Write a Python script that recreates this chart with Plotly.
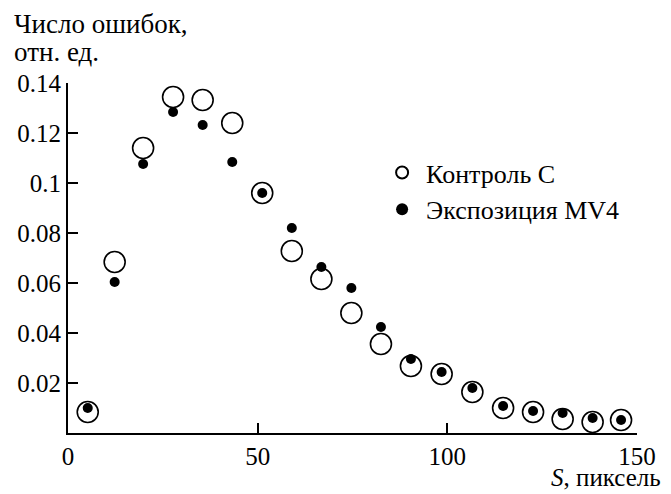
import plotly.graph_objects as go

# Data
s_values = [5.2, 12.3, 19.8, 27.7, 35.5, 43.3, 51.2, 59.0, 66.8, 74.7,
            82.5, 90.4, 98.5, 106.6, 114.7, 122.6, 130.4, 138.3, 145.8]
control_c = [0.0084, 0.0684, 0.114, 0.1344, 0.1332, 0.124, 0.096, 0.0728, 0.0616, 0.048,
             0.0356, 0.0268, 0.0236, 0.0164, 0.010, 0.0084, 0.0056, 0.0044, 0.0052]
exposure_mv4 = [0.010, 0.0604, 0.1076, 0.1284, 0.1232, 0.1084, 0.096, 0.082, 0.0664, 0.058,
                0.0424, 0.0296, 0.0244, 0.018, 0.0108, 0.0088, 0.008, 0.006, 0.0052]

x_ticks = [0, 50, 100, 150]
x_tick_labels = ["0", "50", "100", "150"]
y_ticks = [0.02, 0.04, 0.06, 0.08, 0.1, 0.12, 0.14]
y_tick_labels = ["0.02", "0.04", "0.06", "0.08", "0.1", "0.12", "0.14"]

FONT = "Times New Roman, Liberation Serif, serif"

fig = go.Figure()
fig.add_trace(go.Scatter(
    x=s_values, y=control_c, mode="markers", name="Контроль C",
    marker=dict(symbol="circle-open", size=21, color="black", line=dict(width=1.6, color="black")),
))
fig.add_trace(go.Scatter(
    x=s_values, y=exposure_mv4, mode="markers", name="Экспозиция MV4",
    marker=dict(symbol="circle", size=10, color="black"),
))

fig.update_layout(
    width=671, height=494,
    margin=dict(l=60, r=42, t=75, b=69, autoexpand=False),
    paper_bgcolor="white", plot_bgcolor="white",
    font=dict(family=FONT, size=25, color="black"),
    showlegend=True,
    legend=dict(x=0.545, y=0.811, xanchor="left", yanchor="top",
                font=dict(family=FONT, size=26, color="black"),
                bgcolor="rgba(0,0,0,0)", itemsizing="constant",
                itemwidth=38, tracegroupgap=0),
    xaxis=dict(range=[0, 150], tickvals=x_ticks, ticktext=x_tick_labels,
               ticks="inside", ticklen=10, tickwidth=2, tickcolor="black",
               showline=True, linecolor="black", linewidth=2,
               showgrid=False, zeroline=False, automargin=False,
               tickfont=dict(family=FONT, size=25)),
    yaxis=dict(range=[0, 0.14], tickvals=y_ticks, ticktext=y_tick_labels,
               ticks="inside", ticklen=10, tickwidth=2, tickcolor="black",
               showline=True, linecolor="black", linewidth=2,
               showgrid=False, zeroline=False, automargin=False,
               tickfont=dict(family=FONT, size=25)),
    annotations=[
        dict(text="Число ошибок,", xref="paper", yref="paper",
             x=-0.0976, y=1.168, xanchor="left", yanchor="middle", showarrow=False,
             font=dict(family=FONT, size=27, color="black")),
        dict(text="отн. ед.", xref="paper", yref="paper",
             x=-0.0976, y=1.0886, xanchor="left", yanchor="middle", showarrow=False,
             font=dict(family=FONT, size=27, color="black")),
        dict(text="<i>S</i>, пиксель", xref="paper", yref="paper",
             x=1.045, y=-0.128, xanchor="right", yanchor="middle", showarrow=False,
             font=dict(family=FONT, size=25, color="black")),
    ],
)

fig.write_html("out.html")
